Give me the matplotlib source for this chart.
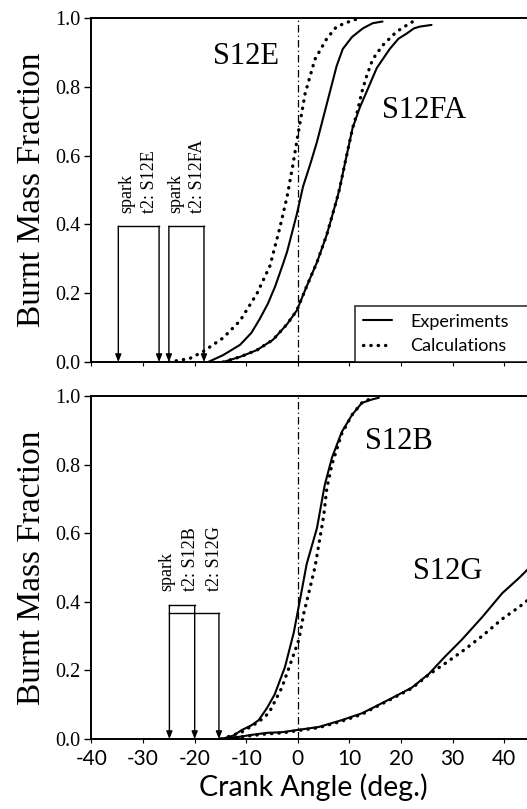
import matplotlib
matplotlib.use("Agg")
import matplotlib.pyplot as plt

# ---- burn curves, upper panel (S12E / S12FA) ----
s12e_exp_x = [-17.4, -14.5, -11.2, -9.0, -7.4, -5.8, -4.4, -3.0, -2.1, -0.2, 1.0, 2.5, 3.7, 5.6, 7.5, 8.7,
              10.5, 12.6, 14.5, 16.4]
s12e_exp_y = [0.0, 0.02, 0.05, 0.085, 0.125, 0.17, 0.22, 0.28, 0.32, 0.43, 0.51, 0.58, 0.64, 0.75, 0.86, 0.91,
              0.945, 0.97, 0.985, 0.99]
s12e_calc_x = [-25.0, -21.0, -18.4, -14.5, -11.2, -7.9, -5.4, -3.5, -2.1, -1.0, 0.0, 1.4, 3.3, 5.6, 7.5, 10.0, 12.0]
s12e_calc_y = [0.0, 0.01, 0.03, 0.07, 0.12, 0.20, 0.28, 0.39, 0.48, 0.57, 0.66, 0.78, 0.88, 0.94, 0.975, 0.99, 1.0]

s12fa_exp_x = [-14.5, -11.2, -7.9, -4.8, -2.1, -0.2, 1.7, 3.7, 5.6, 7.5, 8.1, 9.3, 10.6, 12.0, 13.3,
               15.3, 17.8, 19.5, 21.1, 22.5, 23.6, 25.9]
s12fa_exp_y = [0.0, 0.015, 0.035, 0.065, 0.11, 0.15, 0.22, 0.29, 0.37, 0.47, 0.505, 0.59, 0.68, 0.74, 0.785,
               0.855, 0.91, 0.94, 0.955, 0.97, 0.975, 0.98]
s12fa_calc_x = [-14.5, -11.2, -7.9, -4.8, -2.1, -0.2, 1.7, 3.7, 5.6, 7.5, 8.1, 9.3, 10.6, 11.4, 12.4,
                13.3, 14.5, 16.4, 19.1, 21.7, 23.0]
s12fa_calc_y = [0.0, 0.015, 0.035, 0.065, 0.11, 0.15, 0.22, 0.29, 0.37, 0.47, 0.505, 0.59, 0.68, 0.72, 0.785,
                0.83, 0.88, 0.92, 0.96, 0.985, 0.995]

# ---- burn curves, lower panel (S12B / S12G) ----
s12b_exp_x = [-14.8, -12.5, -10.9, -9.0, -7.6, -6.0, -4.5, -2.5, -0.8, 0.4, 1.7, 3.7, 5.2, 6.6, 8.5,
              10.5, 12.4, 14.4, 15.7]
s12b_exp_y = [0.0, 0.01, 0.026, 0.04, 0.055, 0.09, 0.13, 0.21, 0.31, 0.405, 0.51, 0.615, 0.74, 0.82, 0.895,
              0.945, 0.98, 0.99, 0.995]
s12b_calc_x = [-14.8, -10.9, -7.6, -5.6, -3.1, -1.2, 0.2, 1.2, 2.1, 3.3, 5.0, 5.6, 6.6, 8.5, 10.5, 12.4, 14.4]
s12b_calc_y = [0.0, 0.02, 0.05, 0.076, 0.15, 0.23, 0.29, 0.37, 0.425, 0.5, 0.65, 0.73, 0.80, 0.89, 0.945, 0.98, 0.995]

s12g_exp_x = [-15.0, -12.0, -9.0, -6.0, -3.0, 0.2, 4.0, 8.5, 12.4, 14.4, 18.3, 22.1, 25.4, 28.5, 31.8,
              35.7, 39.6, 42.9, 44.9, 45.8]
s12g_exp_y = [0.0, 0.005, 0.012, 0.018, 0.02, 0.027, 0.035, 0.055, 0.075, 0.09, 0.12, 0.15, 0.19, 0.24, 0.29,
              0.355, 0.425, 0.47, 0.50, 0.515]
s12g_calc_x = [-15.0, -12.0, -9.0, -6.0, -3.0, 0.2, 4.0, 8.5, 12.4, 14.4, 18.3, 22.1, 25.4, 28.5, 31.8,
               35.7, 39.6, 42.9, 45.8]
s12g_calc_y = [0.0, 0.004, 0.01, 0.015, 0.018, 0.025, 0.033, 0.052, 0.072, 0.088, 0.118, 0.148, 0.188, 0.22,
               0.255, 0.30, 0.35, 0.385, 0.42]

# ---- spark timing and t2 crank angles ----
top_events = [-34.8, -26.9, -25.0, -18.2]
top_event_labels = ["spark", "t2: S12E", "spark", "t2: S12FA"]
top_label_offsets = [1.7, -1.8, 1.4, -1.2]
top_bracket_h = 0.395

bot_events = [-24.9, -20.0, -15.3]
bot_event_labels = ["spark", "t2: S12B", "t2: S12G"]
bot_label_offsets = [-0.5, -0.8, -0.8]
bot_bracket_h = [0.39, 0.367]

xticks = [-40, -30, -20, -10, 0, 10, 20, 30, 40]
yticks = [0.0, 0.2, 0.4, 0.6, 0.8, 1.0]

SERIF = "Liberation Serif"
SANS = "Lato"

fig = plt.figure(figsize=(5.27, 8.09), dpi=100)
ax_top = fig.add_axes([0.1736, 0.5525, 0.842, 0.4252])
ax_bot = fig.add_axes([0.1736, 0.0865, 0.842, 0.4240])

solid_kw = dict(color="black", lw=1.5, solid_capstyle="round", solid_joinstyle="round")
dot_kw = dict(color="black", lw=2.4, linestyle=(0, (0.1, 2.1)), dash_capstyle="round")


def style_axes(ax):
    ax.set_xlim(-40, 46)
    ax.set_ylim(0, 1)
    ax.set_xticks(xticks)
    ax.set_yticks(yticks)
    ax.set_yticklabels([f"{v:.1f}" for v in yticks], fontfamily=SERIF, fontsize=14.5)
    for side in ("left", "top", "bottom"):
        ax.spines[side].set_linewidth(1.4)
    ax.spines["right"].set_visible(False)
    ax.tick_params(axis="y", direction="out", length=5, width=1.0, pad=3)
    ax.tick_params(axis="x", direction="out", length=3, width=0.8, pad=4)
    ax.set_ylabel("Burnt Mass Fraction", fontfamily=SERIF, fontsize=24, labelpad=6)
    ax.axvline(0, color="black", lw=0.9, linestyle=(0, (6, 2.5, 1, 2.5)))


def draw_arrow(ax, x, h):
    ax.annotate("", xy=(x, 0.0), xytext=(x, h),
                arrowprops=dict(arrowstyle="-|>,head_length=0.45,head_width=0.18",
                                color="black", lw=1.0, shrinkA=0, shrinkB=0))


# upper panel
style_axes(ax_top)
ax_top.tick_params(axis="x", labelbottom=False)
ax_top.plot(s12e_exp_x, s12e_exp_y, label="Experiments", **solid_kw)
ax_top.plot(s12e_calc_x, s12e_calc_y, label="Calculations", **dot_kw)
ax_top.plot(s12fa_exp_x, s12fa_exp_y, **solid_kw)
ax_top.plot(s12fa_calc_x, s12fa_calc_y, **dot_kw)
ax_top.text(-10.0, 0.887, "S12E", fontfamily=SERIF, fontsize=22, ha="center", va="center")
ax_top.text(24.4, 0.73, "S12FA", fontfamily=SERIF, fontsize=22, ha="center", va="center")

for x in top_events:
    draw_arrow(ax_top, x, top_bracket_h)
for a, b in [(top_events[0], top_events[1]), (top_events[2], top_events[3])]:
    ax_top.plot([a, b], [top_bracket_h, top_bracket_h], color="black", lw=1.0)
for x, off, s in zip(top_events, top_label_offsets, top_event_labels):
    ax_top.text(x + off, 0.432, s, rotation=90, ha="center", va="bottom",
                fontfamily=SERIF, fontsize=13)

leg = ax_top.legend(loc="lower left", bbox_to_anchor=(0.594, 0.0, 0.45, 0.186), mode="expand",
                    borderaxespad=0, fancybox=False, frameon=True, handlelength=1.6,
                    handletextpad=1.0, labelspacing=0.45, borderpad=0.45,
                    prop={"family": SANS, "size": 13})
leg.get_frame().set_edgecolor("black")
leg.get_frame().set_linewidth(1.2)

# lower panel
style_axes(ax_bot)
ax_bot.set_xticklabels([str(v) for v in xticks], fontfamily=SANS, fontsize=15)
ax_bot.set_xlabel("Crank Angle (deg.)", fontfamily=SANS, fontsize=20.5, labelpad=3)
ax_bot.plot(s12b_exp_x, s12b_exp_y, **solid_kw)
ax_bot.plot(s12b_calc_x, s12b_calc_y, **dot_kw)
ax_bot.plot(s12g_exp_x, s12g_exp_y, **solid_kw)
ax_bot.plot(s12g_calc_x, s12g_calc_y, **dot_kw)
ax_bot.text(19.6, 0.866, "S12B", fontfamily=SERIF, fontsize=22, ha="center", va="center")
ax_bot.text(29.1, 0.487, "S12G", fontfamily=SERIF, fontsize=22, ha="center", va="center")

draw_arrow(ax_bot, bot_events[0], bot_bracket_h[0])
draw_arrow(ax_bot, bot_events[1], bot_bracket_h[0])
draw_arrow(ax_bot, bot_events[2], bot_bracket_h[1])
ax_bot.plot([bot_events[0], bot_events[1]], [bot_bracket_h[0]] * 2, color="black", lw=1.0)
ax_bot.plot([bot_events[0], bot_events[2]], [bot_bracket_h[1]] * 2, color="black", lw=1.0)
for x, off, s in zip(bot_events, bot_label_offsets, bot_event_labels):
    ax_bot.text(x + off, 0.432, s, rotation=90, ha="center", va="bottom",
                fontfamily=SERIF, fontsize=13)

fig.savefig("out.png", dpi=100)
